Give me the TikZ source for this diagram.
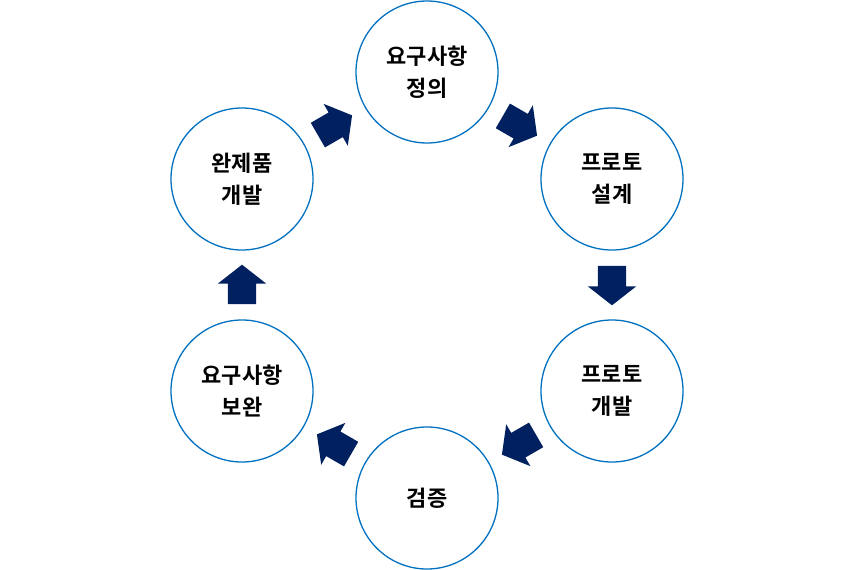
\documentclass[tikz,border=0pt]{standalone}
\usepackage{fontspec}
\newfontfamily\cjk{Noto Sans CJK KR}[BoldFont={Noto Sans CJK KR Bold}]
\usetikzlibrary{shapes.arrows,calc}
\definecolor{ringblue}{HTML}{0070C0}
\definecolor{arrownavy}{HTML}{002060}
\tikzset{
  stage/.style={circle, draw=ringblue, line width=1.3pt, minimum size=142pt, inner sep=0pt,
    align=center, font=\cjk\bfseries\fontsize{22pt}{32pt}\selectfont},
  flow/.style={single arrow, fill=arrownavy, draw=none, inner sep=14pt, minimum height=38pt,
    single arrow head extend=10pt, single arrow tip angle=104},
}
\begin{document}
\begin{tikzpicture}[x=1pt,y=-1pt]
\useasboundingbox (0,0) rectangle (854,570);
\node[stage] (req) at (427,72){요구사항\\정의};
\node[stage] (design) at (612,179){프로토\\설계};
\node[stage] (proto) at (612,391){프로토\\개발};
\node[stage] (test) at (427,498){검증};
\node[stage] (fix) at (242,391){요구사항\\보완};
\node[stage] (final) at (242,179){완제품\\개발};
% block arrows sit halfway between neighbouring stages
\node[flow, rotate=-30, xshift=-5pt] (a1) at ($(req)!0.5!(design)$){};
\node[flow, rotate=-90, xshift=-5pt] (a2) at ($(design)!0.5!(proto)$){};
\node[flow, rotate=-150, xshift=-5pt] (a3) at ($(proto)!0.5!(test)$){};
\node[flow, rotate=150, xshift=-5pt] (a4) at ($(test)!0.5!(fix)$){};
\node[flow, rotate=90, xshift=-5pt] (a5) at ($(fix)!0.5!(final)$){};
\node[flow, rotate=30, xshift=-5pt] (a6) at ($(final)!0.5!(req)$){};
\end{tikzpicture}
\end{document}
